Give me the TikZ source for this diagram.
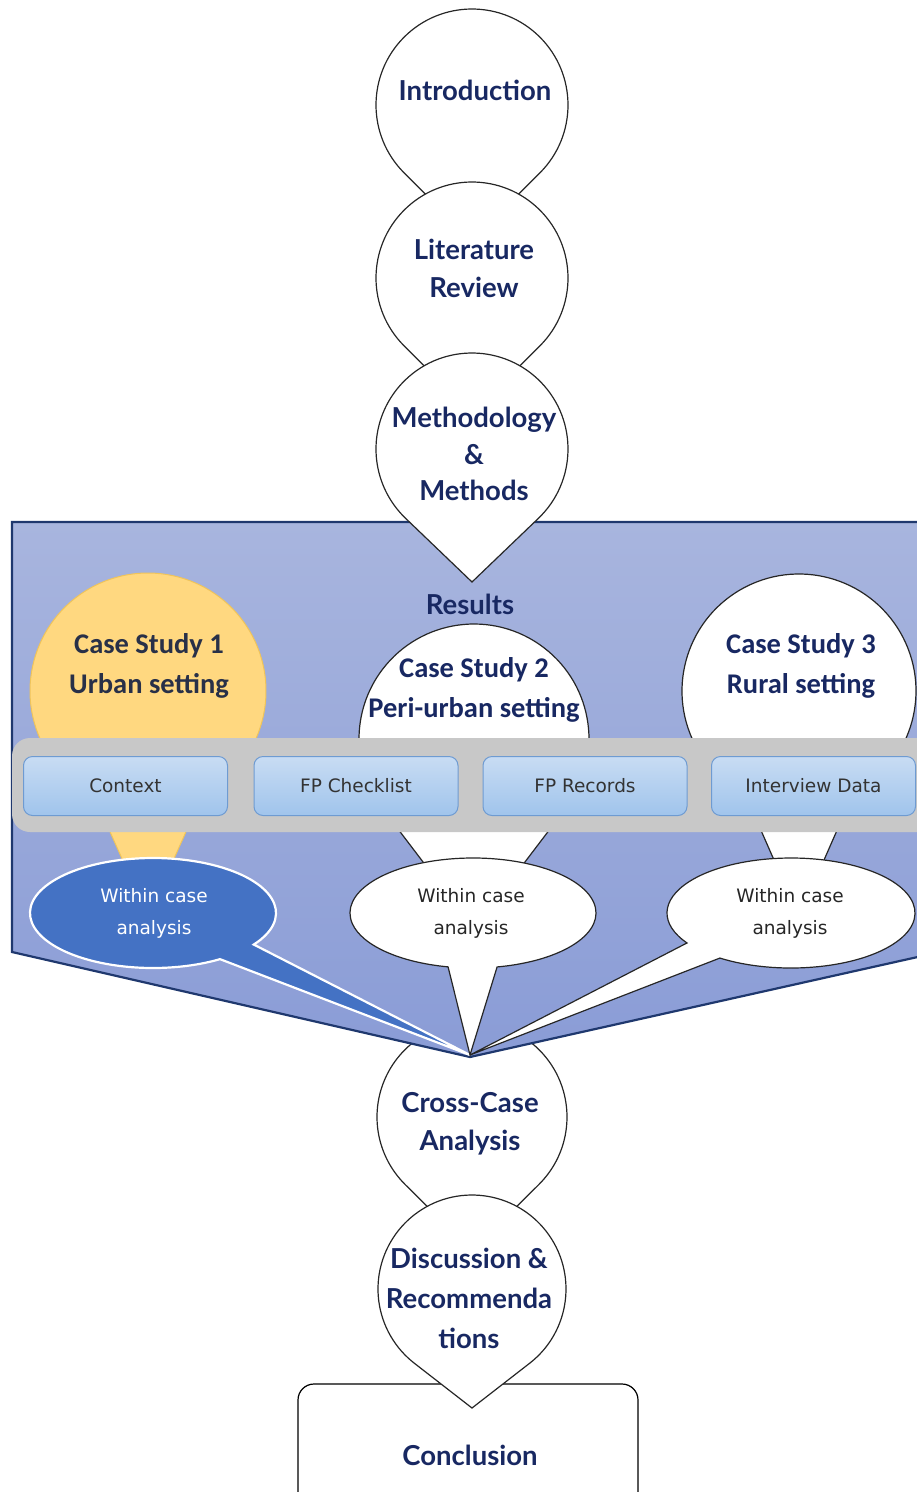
\documentclass[tikz,border=0pt]{standalone}
\usepackage{fontspec}
\setmainfont{Carlito}
\newfontfamily\headfont{Lato}
\newfontfamily\boxfont{DejaVu Sans}
\newfontfamily\casefont{Carlito}
\usetikzlibrary{calc}
\definecolor{navy}{RGB}{24,40,98}
\definecolor{csonetext}{RGB}{40,48,72}
\definecolor{paneledge}{RGB}{31,56,110}
\definecolor{paneltop}{RGB}{168,181,222}
\definecolor{panelbot}{RGB}{138,156,214}
\definecolor{csyellow}{RGB}{255,216,128}
\definecolor{csyedge}{RGB}{240,196,90}
\definecolor{bandgray}{RGB}{200,200,200}
\definecolor{boxtop}{RGB}{200,220,243}
\definecolor{boxbot}{RGB}{160,196,236}
\definecolor{boxedge}{RGB}{110,155,210}
\definecolor{bubblue}{RGB}{68,114,196}
% teardrop: #1 style, #2 cx, #3 cy, #4 radius, #5 distance of tip from centre
\newcommand\mytear[5]{%
  \pgfmathsetmacro\tdA{90-acos(#4/#5)}%
  \pgfmathsetmacro\tdB{90+acos(#4/#5)-360}%
  \path[#1] (#2,#3+#5) -- ($(#2,#3)+(\tdA:#4)$)
    arc[start angle=\tdA, end angle=\tdB, radius=#4] -- cycle;}
\begin{document}
\begin{tikzpicture}[x=1pt,y=-1pt,
  tear/.style={fill=white,draw=black!85,line width=1.2pt},
  head/.style={font=\headfont\bfseries\fontsize{27.5}{38}\selectfont,text=navy,align=center,inner sep=0pt},
  casetxt/.style={font=\casefont\bfseries\fontsize{28.5}{40}\selectfont,text=navy,align=center,inner sep=0pt},
  databox/.style={draw=boxedge,line width=1pt,rounded corners=9pt,top color=boxtop,bottom color=boxbot,
     minimum width=204pt,minimum height=59pt,font=\boxfont\fontsize{18.5}{20}\selectfont,text=black!80},
  bubtxt/.style={font=\boxfont\fontsize{18.5}{32}\selectfont,align=center,inner sep=0pt}]
\useasboundingbox (0,0) rectangle (917,1492);
\clip (0,0) rectangle (917,1492);

% conclusion box
\draw[line width=1.2pt, rounded corners=16pt, fill=white] (298,1384) rectangle (638,1515);
\node[head] (concl) at (470,1455) {Conclusion};

% lower teardrops
\mytear{tear}{472}{1117}{95}{134}
\mytear{tear}{472}{1289}{94}{119}

% results panel
\draw[line width=2.2pt, draw=paneledge, top color=paneltop, bottom color=panelbot]
  (12,522) -- (940,522) -- (940,952) -- (470,1057) -- (12,952) -- cycle;

% upper teardrops
\mytear{tear}{472}{105}{96}{136}
\mytear{tear}{472}{278}{96}{136}
\mytear{tear}{472}{449}{96}{133}

\node[head] (intro) at (475,90) {Introduction};
\node[head] (lit) at (474,268) {Literature\\Review};
\node[head,font=\headfont\bfseries\fontsize{27.5}{36.5}\selectfont] (meth) at (474,454) {Methodology\\\&\\Methods};
\node[head] (res) at (470,604) {Results};

% case studies
\path[fill=csyellow, draw=csyedge, line width=1pt] (148,917) -- ($(148,691)+(62.8:118)$)
  arc[start angle=62.8, end angle=-242.8, radius=118] -- cycle;
\path[tear] (799,917) -- ($(799,691)+(62.8:117)$)
  arc[start angle=62.8, end angle=-242.8, radius=117] -- cycle;
\mytear{tear}{474}{739}{115}{190}

\node[casetxt, text=csonetext] (cs1) at (149,666) {Case Study 1\\Urban setting};
\node[casetxt] (cs2) at (474,690) {Case Study 2\\Peri-urban setting};
\node[casetxt] (cs3) at (801,666) {Case Study 3\\Rural setting};

% band
\fill[bandgray, rounded corners=18pt] (12,738) rectangle (950,832);
\node[databox] (ctx) at (125.5,786) {Context};
\node[databox] (chk) at (356,786) {FP Checklist};
\node[databox] (rec) at (585,786) {FP Records};
\node[databox] (int) at (813.5,786) {Interview Data};

% callouts
\coordinate (tip) at (470,1055);
\path[fill=bubblue, draw=white, line width=2.2pt] (tip) -- ($(153,913)+({123*cos(35)},{55*sin(35)})$)
  arc[start angle=35, end angle=-303, x radius=123, y radius=55] -- cycle;
\path[fill=white, draw=black!85, line width=1.2pt] (tip) -- ($(473,913)+({123*cos(78.7)},{55*sin(78.7)})$)
  arc[start angle=78.7, end angle=-258.3, x radius=123, y radius=55] -- cycle;
\path[fill=white, draw=black!85, line width=1.2pt] (tip) -- ($(791,913)+({124*cos(125)},{55*sin(125)})$)
  arc[start angle=125, end angle=-213, x radius=124, y radius=55] -- cycle;

\node[bubtxt, text=white] (w1) at (154,913) {Within case\\analysis};
\node[bubtxt, text=black!85] (w2) at (471,913) {Within case\\analysis};
\node[bubtxt, text=black!85] (w3) at (790,913) {Within case\\analysis};

\node[head] (cross) at (470,1124) {Cross-Case\\Analysis};
\node[head,font=\headfont\bfseries\fontsize{27.5}{40}\selectfont] (disc) at (469,1298) {Discussion \&\\Recommenda\\tions};
\end{tikzpicture}
\end{document}
